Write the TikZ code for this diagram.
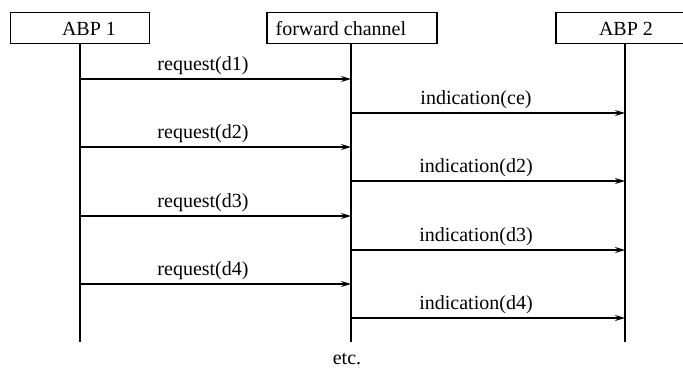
\documentclass[tikz,border=0pt]{standalone}
\usepackage{fontspec}
\setmainfont{Liberation Serif}
\usetikzlibrary{arrows.meta}
\begin{document}
\begin{tikzpicture}[x=1pt,y=-1pt,
  line width=1.3pt,
  actor/.style={draw, rectangle, minimum height=31pt, inner sep=0pt},
  lbl/.style={font=\fontsize{20}{24}\selectfont, inner sep=0pt, anchor=base},
  msg/.style={-{Stealth[length=10pt,width=6pt]}},
  lifeline/.style={line width=1.3pt},
]
\useasboundingbox (0,0) rectangle (683,370);
\clip (0,0) rectangle (683,370);

% participants
\node[actor, minimum width=139pt] (abp1) at (80,28) {};
\node[actor, minimum width=170pt] (fwd)  at (352,28) {};
\node[actor, minimum width=138pt] (abp2) at (625,28) {};
\node[lbl] (t1) at (89,35) {ABP 1};
\node[lbl, anchor=base west] (t2) at (275,35) {forward channel};
\node[lbl] (t3) at (626,35) {ABP 2};

% lifelines
\coordinate (l1top) at (80,43.5);   \coordinate (l1bot) at (80,342);
\coordinate (l2top) at (351,43.5);  \coordinate (l2bot) at (351,342);
\coordinate (l3top) at (625,43.5);  \coordinate (l3bot) at (625,342);
\draw[lifeline] (l1top) -- (l1bot);
\draw[lifeline] (l2top) -- (l2bot);
\draw[lifeline] (l3top) -- (l3bot);

% requests from ABP 1 to the forward channel
\foreach \i/\y/\d in {1/79/d1,2/147/d2,3/216/d3,4/284/d4} {
  \coordinate (rq\i) at (80,\y);
  \coordinate (fr\i) at (351,\y);
  \draw[msg] (rq\i) -- (fr\i);
  \node[lbl] (rqlbl\i) at (203,\y-9) {request(\d)};
}

% indications from the forward channel to ABP 2
\foreach \i/\y/\d in {1/113/ce,2/181/d2,3/250/d3,4/318/d4} {
  \coordinate (ind\i) at (351,\y);
  \coordinate (ab\i) at (625,\y);
  \draw[msg] (ind\i) -- (ab\i);
  \node[lbl] (indlbl\i) at (476,\y-9) {indication(\d)};
}

\node[lbl] (etc) at (347,364) {etc.};
\end{tikzpicture}
\end{document}
